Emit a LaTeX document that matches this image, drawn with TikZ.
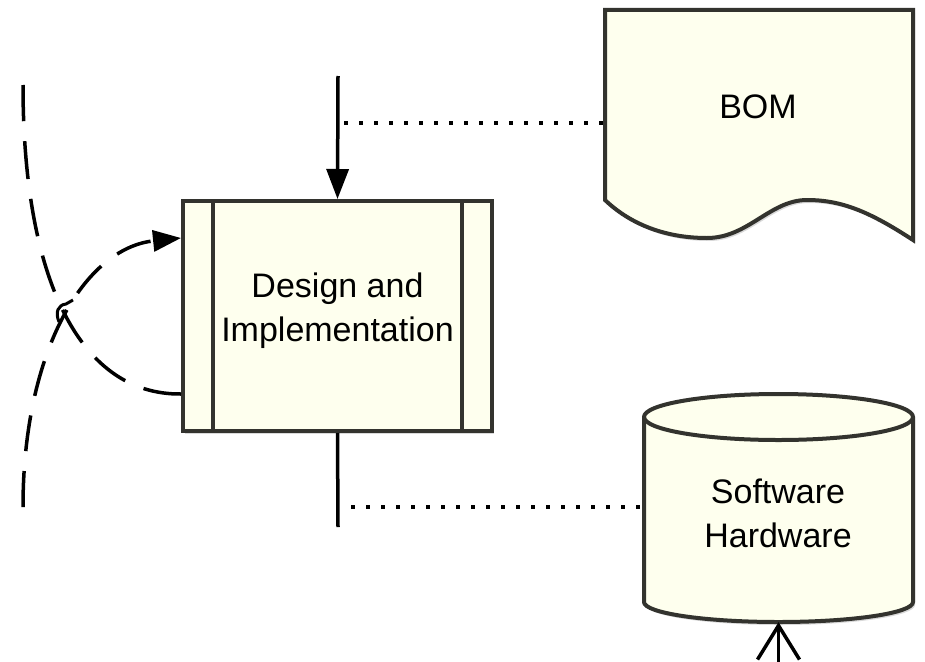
\documentclass[tikz,border=0pt]{standalone}
\usepackage{fontspec}
\setmainfont{Liberation Sans}
\usetikzlibrary{arrows.meta,shadows}
\definecolor{shapefill}{HTML}{FEFFEE}
\definecolor{shapeline}{HTML}{33332E}
\tikzset{
  shapestyle/.style={draw=shapeline, fill=shapefill, line width=4pt, line join=miter,
    drop shadow={opacity=0.3, shadow xshift=2pt, shadow yshift=-3pt}},
  conn/.style={line width=3.5pt, draw=black},
  dashline/.style={line width=3.5pt, draw=black, dash pattern=on 36pt off 20pt},
  dotline/.style={line width=3.5pt, draw=black, dash pattern=on 3.5pt off 11.5pt},
  lbl/.style={font=\fontsize{34}{44}\selectfont, align=center, text=black},
}
\begin{document}
\begin{tikzpicture}[x=1pt,y=-1pt]
\useasboundingbox (0,0) rectangle (925,661);

% Process box
\node[shapestyle, minimum width=309pt, minimum height=230pt, inner sep=0pt] (proc) at (337.5,316) {};
\draw[draw=shapeline, line width=4pt] ([xshift=32pt]proc.north west) -- ([xshift=32pt]proc.south west);
\draw[draw=shapeline, line width=4pt] ([xshift=-32pt]proc.north east) -- ([xshift=-32pt]proc.south east);
\node[lbl] (proctext) at (337.5,311) {Design and\\Implementation};

% BOM document shape
\node[inner sep=0pt, minimum width=308pt, minimum height=230pt] (bom) at (759,125) {};
\path[shapestyle] (605,10) -- (913,10) -- (913,240)
  .. controls (870,212) and (842,200) .. (807,200)
  .. controls (770,200) and (748,238) .. (707,238)
  .. controls (662,238) and (628,222) .. (605,200) -- cycle;
\node[lbl] (bomtext) at (758,107) {BOM};

% Database cylinder
\node[inner sep=0pt, minimum width=269pt, minimum height=228pt] (db) at (778.5,508) {};
\path[shapestyle] (644,417) -- (644,602)
  .. controls (644,613) and (704.2,622) .. (778.5,622)
  .. controls (852.8,622) and (913,613) .. (913,602)
  -- (913,417)
  .. controls (913,404.3) and (852.8,394) .. (778.5,394)
  .. controls (704.2,394) and (644,404.3) .. (644,417) -- cycle;
\draw[draw=shapeline, line width=4pt] (644,417)
  .. controls (644,429.7) and (704.2,440) .. (778.5,440)
  .. controls (852.8,440) and (913,429.7) .. (913,417);
\node[lbl] (dbtext) at (778,513) {Software\\Hardware};

% Connectors
\coordinate (topin) at (338,76);
\coordinate (botout) at (338,527);
\draw[conn, -{Triangle[length=30pt,width=22pt]}] (topin) -- (proc.north);
\draw[conn] (proc.south) -- (botout);

\coordinate (dot1) at (344,123);
\coordinate (dot2) at (351,507);
\draw[dotline] (dot1) -- (dot1 -| bom.west);
\draw[dotline] (dot2) -- (dot2 -| db.west);

\coordinate (dbin) at (778.5,675);
\draw[conn, -{Straight Barb[length=34pt,width=42pt]}] (dbin) -- (db.south);

% Dashed loop on the left
\coordinate (lt) at (23,85);
\coordinate (lb) at (23,507);
\draw[dashline, dash pattern=on 38pt off 20pt] ([yshift=39pt]proc.south west) .. controls (80,395) and (23,280) .. (lt);
\draw[dashline, -{Triangle[length=28pt,width=21pt]}] (lb) .. controls (23,350) and (85,248) .. ([yshift=-39pt]proc.north west);
\draw[line width=3pt] (59,322) .. controls (55,312) and (58,305) .. (66,304) -- (73,300);
\end{tikzpicture}
\end{document}
